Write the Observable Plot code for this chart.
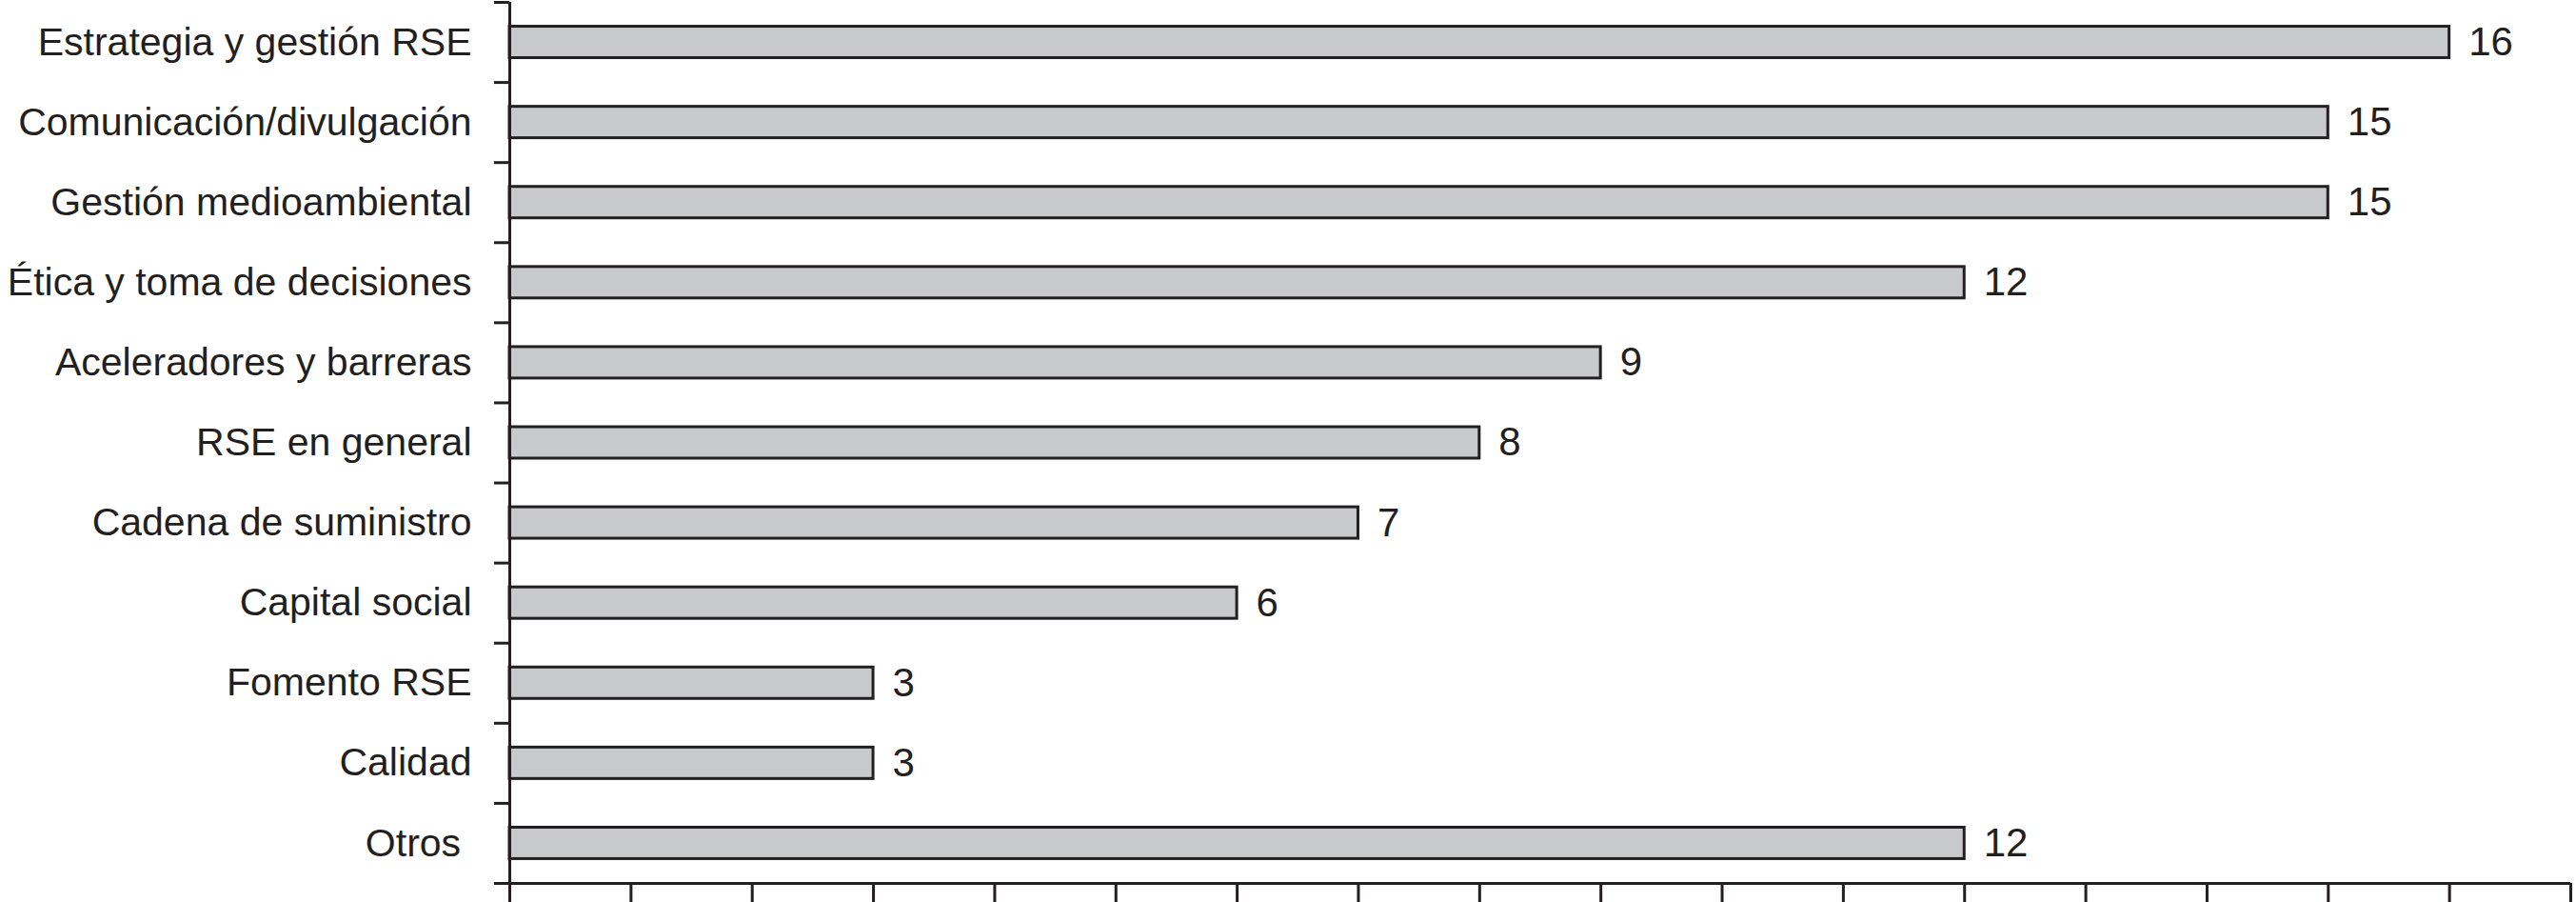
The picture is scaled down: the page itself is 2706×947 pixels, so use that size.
<!DOCTYPE html>
<html>
<head>
<meta charset="utf-8">
<script src="https://cdn.jsdelivr.net/npm/d3@7"></script>
<script src="https://cdn.jsdelivr.net/npm/@observablehq/plot@0.6"></script>
<style>
  html, body { margin: 0; padding: 0; background: #ffffff; }
  #chart svg { display: block; }
</style>
</head>
<body>
<div id="chart"></div>
<script>
const categories = [
  "Estrategia y gestión RSE",
  "Comunicación/divulgación",
  "Gestión medioambiental",
  "Ética y toma de decisiones",
  "Aceleradores y barreras",
  "RSE en general",
  "Cadena de suministro",
  "Capital social",
  "Fomento RSE",
  "Calidad",
  "Otros\u00a0"
];
const values = [16, 15, 15, 12, 9, 8, 7, 6, 3, 3, 12];
const xTicks = d3.range(0, 18);

const data = categories.map((c, i) => ({category: c, value: values[i], i}));
const bandEdges = d3.range(categories.length + 1).map(k => k - 0.5);
const ink = "#231f20";

const chart = Plot.plot({
  width: 2706,
  height: 947,
  marginLeft: 535,
  marginRight: 6,
  marginTop: 2,
  marginBottom: 20,
  style: {fontFamily: "'Liberation Sans', Arial, sans-serif", fontSize: "41px", color: ink, background: "#ffffff"},
  x: {domain: [0, 17], axis: null},
  y: {domain: [-0.5, categories.length - 0.5], reverse: true, axis: null},
  marks: [
    Plot.rectX(data, {
      x1: 0, x2: "value",
      y1: d => d.i - 0.196, y2: d => d.i + 0.196,
      fill: "#c8c9cb", stroke: ink, strokeWidth: 3
    }),
    Plot.text(data, {
      x: "value", y: "i", text: d => String(d.value),
      textAnchor: "start", dx: 20, fontSize: 42, fill: ink
    }),
    Plot.ruleX([0], {stroke: ink, strokeWidth: 3}),
    Plot.ruleY([categories.length - 0.5], {stroke: ink, strokeWidth: 3}),
    Plot.axisY(bandEdges, {tickSize: 16, tickFormat: () => "", stroke: ink, strokeWidth: 3, label: null}),
    Plot.axisY(d3.range(categories.length), {
      tickSize: 0, tickPadding: 40, tickFormat: i => categories[i],
      fontSize: 41, fill: ink, label: null
    }),
    Plot.axisX(xTicks, {tickSize: 20, tickFormat: () => "", stroke: ink, strokeWidth: 3, label: null})
  ]
});
document.getElementById("chart").appendChild(chart);
</script>
</body>
</html>
